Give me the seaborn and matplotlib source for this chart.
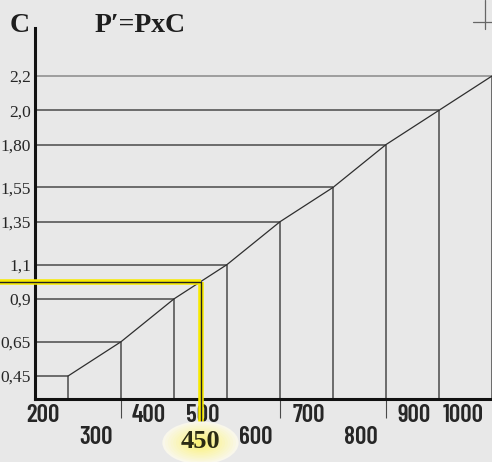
import matplotlib
matplotlib.use("Agg")
import matplotlib.pyplot as plt
import matplotlib.transforms as mtrans
from matplotlib.patches import Ellipse
from matplotlib.lines import Line2D
import seaborn as sns
import numpy as np

# data
p_values = [200, 300, 400, 500, 600, 700, 800, 900, 1000]
c_values = [0.45, 0.65, 0.9, 1.1, 1.35, 1.55, 1.80, 2.0, 2.2]
c_labels = ["0,45", "0,65", "0,9", "1,1", "1,35", "1,55", "1,80", "2,0", "2,2"]
p_labels = ["200", "300", "400", "500", "600", "700", "800", "900", "1000"]
lower_row = [300, 600, 800]
highlight_p = 450
highlight_label = "450"

BG = "#e8e8e8"
LINE = "#4a4a4a"
YELLOW = "#f7ea00"

sns.set_theme(style="white", rc={"axes.facecolor": BG, "figure.facecolor": BG})
serif = ["Liberation Serif", "DejaVu Serif"]
narrow = ["Barlow Condensed", "DejaVu Sans"]

fig = plt.figure(figsize=(4.92, 4.62), dpi=100)
ax = fig.add_axes([35 / 492, 63 / 462, 457 / 492, 371 / 462])
ax.set_xlim(137.7, 1000)
ax.set_ylim(0.316, 2.48)

# grid of steps: horizontal to the curve, vertical down to the axis
x0 = ax.get_xlim()[0]
y0 = ax.get_ylim()[0]
hcolors = [LINE] * (len(c_values) - 1) + ["#8a8a8a"]
ax.hlines(c_values, x0, p_values, colors=hcolors, lw=1.1, clip_on=False, zorder=2)
ax.vlines(p_values, y0, c_values, colors=LINE, lw=1.1, clip_on=False, zorder=2)

sns.lineplot(x=p_values, y=c_values, ax=ax, color="#2e2e2e", lw=0.9, zorder=3)

# highlighted reading P = 450
hl_c = np.interp(highlight_p, p_values, c_values)
ax.plot([0, highlight_p], [hl_c, hl_c], color=YELLOW, lw=4, clip_on=False, zorder=4,
        solid_capstyle="butt")
ax.plot([highlight_p, highlight_p], [hl_c, 0.12], color=YELLOW, lw=4, clip_on=False,
        zorder=4, solid_capstyle="butt")
ax.plot([0, highlight_p, highlight_p], [hl_c, hl_c, 0.12], color="#222222", lw=1.0,
        clip_on=False, zorder=5)

# soft yellow bubble for the 450 label
blend = mtrans.blended_transform_factory(ax.transData, ax.transAxes)
n = 14
for i in range(n):
    f = 1 - i / n
    col = np.array([0.975, 0.97, 0.92]) * f + np.array([0.985, 0.945, 0.42]) * (1 - f)
    ax.add_patch(Ellipse((highlight_p, -0.118), 144 * f, 0.115 * f, transform=blend,
                         facecolor=col, edgecolor="none", clip_on=False, zorder=6))
ax.annotate(highlight_label, xy=(highlight_p, 0), xycoords=("data", "axes fraction"),
            xytext=(0, -42), textcoords="offset pixels", ha="center", va="center",
            fontsize=19, fontweight="bold", family=serif, color="#2b2b14", zorder=7)

# x labels, staggered, sitting left of their step line
for p, lab in zip(p_values, p_labels):
    dy = -39 if p in lower_row else -17
    ax.annotate(lab, xy=(p, 0), xycoords=("data", "axes fraction"), xytext=(-8, dy),
                textcoords="offset pixels", ha="right", va="center", fontsize=18,
                fontweight=600, family=narrow, color="#262626")

# y labels
for c, lab in zip(c_values, c_labels):
    ax.annotate(lab, xy=(0, c), xycoords=("axes fraction", "data"), xytext=(-4, 0),
                textcoords="offset pixels", ha="right", va="center_baseline",
                fontsize=12.5, family=serif, color="#262626")

ax.set_xticks(lower_row)
ax.set_xticklabels([])
ax.set_yticks([])
ax.tick_params(axis="x", direction="out", length=13.5, width=0.8, color=LINE, bottom=True)
for side in ["top", "right"]:
    ax.spines[side].set_visible(False)
for side in ["left", "bottom"]:
    ax.spines[side].set_color("#111111")
    ax.spines[side].set_linewidth(2.2)
ax.set_xlabel("")
ax.set_ylabel("")

fig.text(10 / 492, 1 - 32 / 462, "C", fontsize=20, fontweight="bold", family=serif,
         color="#1e1e1e", va="baseline")
fig.text(95 / 492, 1 - 32 / 462, "P\u2032=PxC", fontsize=20, fontweight="bold",
         family=serif, color="#1e1e1e", va="baseline")

# registration mark top right
fig.add_artist(Line2D([485 / 492, 485 / 492], [1, 1 - 29 / 462], color="#666666", lw=0.9))
fig.add_artist(Line2D([473 / 492, 1], [1 - 22 / 462, 1 - 22 / 462], color="#666666", lw=0.9))

fig.savefig("out.png", dpi=100, facecolor=BG)
